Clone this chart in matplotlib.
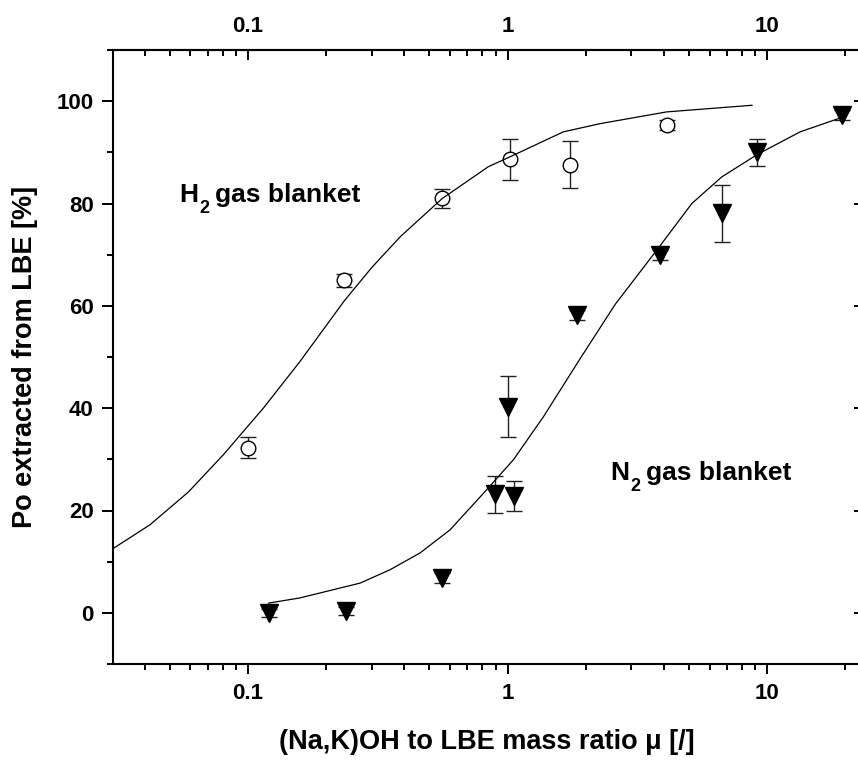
import matplotlib
matplotlib.use("Agg")
import matplotlib.pyplot as plt
from matplotlib.ticker import FixedLocator, LogLocator, NullFormatter

plt.rcParams['font.family'] = ['Liberation Sans', 'DejaVu Sans']
plt.rcParams['font.weight'] = 'bold'
plt.rcParams['axes.labelweight'] = 'bold'

# measured points, H2 blanket (open circles)
h2_x = [0.10, 0.235, 0.56, 1.02, 1.74, 4.1]
h2_y = [32.3, 65.0, 81.0, 88.6, 87.6, 95.4]
h2_err = [2.1, 1.3, 1.8, 4.1, 4.6, 1.0]

# measured points, N2 blanket (filled triangles)
n2_x = [0.12, 0.238, 0.56, 0.895, 1.0, 1.06, 1.86, 3.87, 6.68, 9.18, 19.4]
n2_y = [0.0, 0.3, 6.8, 23.2, 40.3, 22.9, 58.2, 69.9, 78.1, 90.0, 97.3]
n2_err = [0.8, 0.8, 1.0, 3.6, 6.0, 2.9, 1.0, 1.0, 5.6, 2.7, 1.0]

# fit curves
h2_fit_x = [0.0303, 0.0419, 0.0589, 0.0804, 0.1146, 0.1585, 0.236, 0.30, 0.386,
            0.561, 0.844, 1.02, 1.64, 2.27, 4.10, 8.75]
h2_fit_y = [12.6, 17.2, 23.6, 30.9, 40.0, 49.1, 61.1, 67.5, 73.5,
            81.0, 87.2, 89.1, 94.0, 95.6, 97.9, 99.2]
n2_fit_x = [0.12, 0.158, 0.27, 0.352, 0.46, 0.60, 0.819, 1.053, 1.374, 1.90,
            2.60, 3.76, 5.13, 6.69, 9.18, 13.4, 19.6]
n2_fit_y = [1.9, 2.9, 5.8, 8.4, 11.7, 16.2, 23.7, 29.9, 38.3, 49.6,
            60.3, 70.9, 80.0, 85.2, 89.6, 94.0, 96.9]

fig = plt.figure(figsize=(8.58, 7.6), dpi=100)
ax = fig.add_axes([113/858, 96/760, 747/858, 614/760])
ax.set_xscale('log')
ax.set_xlim(0.0302, 22.8)
ax.set_ylim(-10, 110)

ax.errorbar(h2_x, h2_y, yerr=h2_err, fmt='none', ecolor='#222222', elinewidth=1,
            capsize=6, capthick=1, zorder=2)
ax.errorbar(n2_x, n2_y, yerr=n2_err, fmt='none', ecolor='#222222', elinewidth=1,
            capsize=6, capthick=1, zorder=2)
ax.plot(h2_x, h2_y, 'o', ms=10.5, mfc='white', mec='black', mew=1, zorder=3)
ax.plot(n2_x, n2_y, 'v', ms=12.5, mfc='black', mec='black', zorder=3)
ax.plot(h2_fit_x, h2_fit_y, color='black', lw=0.9, zorder=4)
ax.plot(n2_fit_x, n2_fit_y, color='black', lw=0.9, zorder=4)


def gas_label(x, y, sym):
    # element letter, dropped subscript 2, then the rest
    ax.annotate(sym, (x, y), fontsize=19, ha='left', va='baseline')
    ax.annotate('2', (x, y), xytext=(14.5, -8), textcoords='offset points',
                fontsize=13, ha='left', va='baseline')
    ax.annotate('gas blanket', (x, y), xytext=(26, 0), textcoords='offset points',
                fontsize=19, ha='left', va='baseline')


gas_label(0.0542, 80.3, 'H')
gas_label(2.48, 26.0, 'N')

for s in ax.spines.values():
    s.set_linewidth(1.5)

# bottom axis
ax.xaxis.set_major_locator(FixedLocator([0.1, 1, 10]))
ax.set_xticklabels(['0.1', '1', '10'])
ax.xaxis.set_minor_locator(LogLocator(base=10, subs=range(2, 10)))
ax.xaxis.set_minor_formatter(NullFormatter())
ax.tick_params(axis='x', which='major', direction='out', length=7.5, width=1.4,
               labelsize=16, pad=6)
ax.tick_params(axis='x', which='minor', direction='out', length=4.5, width=1.4)

# left axis
ax.set_yticks([0, 20, 40, 60, 80, 100])
ax.yaxis.set_minor_locator(FixedLocator([-10, 10, 30, 50, 70, 90, 110]))
ax.tick_params(axis='y', which='major', direction='out', length=8, width=1.4,
               labelsize=16, pad=6)
ax.tick_params(axis='y', which='minor', direction='out', length=4.5, width=1.4)

# top axis, inward ticks
top = ax.secondary_xaxis('top')
top.xaxis.set_major_locator(FixedLocator([0.1, 1, 10]))
top.set_xticklabels(['0.1', '1', '10'])
top.xaxis.set_minor_locator(LogLocator(base=10, subs=range(2, 10)))
top.xaxis.set_minor_formatter(NullFormatter())
top.tick_params(axis='x', which='major', direction='in', length=7.5, width=1.4,
                labelsize=16, pad=9)
top.tick_params(axis='x', which='minor', direction='in', length=4.5, width=1.4)
top.spines['top'].set_linewidth(1.5)

# right axis, inward ticks
right = ax.secondary_yaxis('right')
right.set_yticks([0, 20, 40, 60, 80, 100])
right.set_yticklabels([])
right.tick_params(axis='y', direction='in', length=4, width=1.4)

ax.set_xlabel('(Na,K)OH to LBE mass ratio μ [/]', fontsize=19.5)
ax.xaxis.set_label_coords(0.5, -0.106)
ax.set_ylabel('Po extracted from LBE [%]', fontsize=19.5)
ax.yaxis.set_label_coords(-0.100, 0.5)

fig.savefig('out.png', dpi=100)
